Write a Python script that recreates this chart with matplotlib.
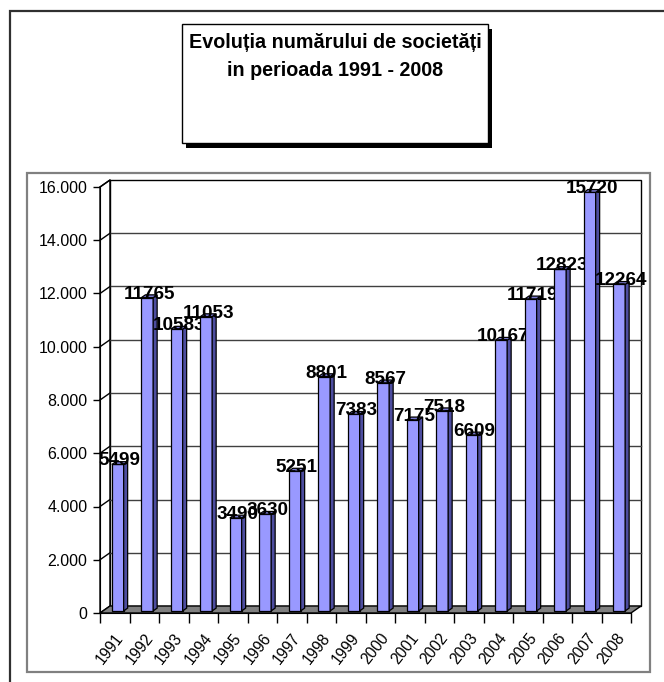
import matplotlib
matplotlib.use("Agg")
import matplotlib.pyplot as plt
from matplotlib.patches import Polygon, Rectangle

plt.rcParams['font.family'] = ['Liberation Sans', 'DejaVu Sans']

# data
years = ["1991", "1992", "1993", "1994", "1995", "1996", "1997", "1998", "1999",
         "2000", "2001", "2002", "2003", "2004", "2005", "2006", "2007", "2008"]
companies = [5499, 11765, 10583, 11053, 3490, 3630, 5251, 8801, 7383,
             8567, 7175, 7518, 6609, 10167, 11719, 12823, 15720, 12264]
yticks = [0, 2000, 4000, 6000, 8000, 10000, 12000, 14000, 16000]
title_lines = ["Evoluția numărului de societăți", "in perioada 1991 - 2008"]

W, H = 664, 682
PX_CAT = 29.5      # pixels per category
PX_K = 26.625      # pixels per 1000 units


def fbox(x0, y0, x1, y1):
    """pixel box (top-left origin) -> figure fraction [l, b, w, h]"""
    return [x0 / W, 1 - y1 / H, (x1 - x0) / W, (y1 - y0) / H]


def fig_rect(x0, y0, x1, y1, **kw):
    l, b, w, h = fbox(x0, y0, x1, y1)
    fig.add_artist(Rectangle((l, b), w, h, transform=fig.transFigure,
                             zorder=-1, **kw))


fig = plt.figure(figsize=(W / 100, H / 100), dpi=100)

# outer frame and chart area
fig_rect(10, 11, 680, 695, fill=False, ec='#303030', lw=1.6)
fig_rect(27, 173, 650, 672, fc='white', ec='#808080', lw=1.6)

# title box with shadow
fig_rect(186, 29, 492, 148, fc='black', ec='black', lw=0)
fig_rect(182, 24, 488, 143, fc='white', ec='black', lw=1)
fig.text(335 / W, 1 - 43 / H, title_lines[0], ha='center', va='center',
         fontsize=14.2, fontweight='bold')
fig.text(335 / W, 1 - 70 / H, title_lines[1], ha='center', va='center',
         fontsize=14.2, fontweight='bold')

# plot axes
ax = fig.add_axes(fbox(100, 178, 645, 613))
ax.set_zorder(1)
n = len(years)
ax.set_xlim(0, 545 / PX_CAT)
ax.set_ylim(0, 435 / PX_K * 1000)
ax.patch.set_visible(False)

dx = 10 / PX_CAT          # depth offset, categories
dy = 7 / PX_K * 1000      # depth offset, values
top = yticks[-1]

# walls and floor
ax.add_patch(Polygon([(0, 0), (dx, dy), (dx, top + dy), (0, top)],
                     closed=True, fc='white', ec='black', lw=1, zorder=1, clip_on=False))
ax.add_patch(Rectangle((dx, dy), n, top, fc='white', ec='black', lw=1,
                       zorder=1, clip_on=False))
for v in yticks[1:-1]:
    ax.plot([dx, n + dx], [v + dy, v + dy], color='#404040', lw=1, zorder=1.5,
            clip_on=False)
for v in yticks[1:]:
    ax.plot([0, dx], [v, v + dy], color='black', lw=1, zorder=1.5, clip_on=False)
ax.add_patch(Polygon([(0, 0), (n, 0), (n + dx, dy), (dx, dy)], closed=True,
                     fc='#808080', ec='black', lw=1, zorder=2, clip_on=False))

# 3d-looking columns
bw = 0.4
f0, f1 = 0.3, 0.7
for i, v in enumerate(companies):
    z = 3 + 2 * i
    x0 = i + 0.5 - bw / 2 + f0 * dx
    y0 = f0 * dy
    ddx, ddy = (f1 - f0) * dx, (f1 - f0) * dy
    ax.add_patch(Rectangle((x0, y0), bw, v, fc='#9999ff', ec='black', lw=0.9,
                           zorder=z, clip_on=False))
    ax.add_patch(Polygon([(x0 + bw, y0), (x0 + bw + ddx, y0 + ddy),
                          (x0 + bw + ddx, y0 + v + ddy), (x0 + bw, y0 + v)],
                         closed=True, fc='#4d4d9f', ec='black', lw=0.9,
                         zorder=z, clip_on=False))
    ax.add_patch(Polygon([(x0, y0 + v), (x0 + bw, y0 + v),
                          (x0 + bw + ddx, y0 + v + ddy), (x0 + ddx, y0 + v + ddy)],
                         closed=True, fc='#7777cc', ec='black', lw=0.9,
                         zorder=z, clip_on=False))
    ax.text(i + 0.5 + 0.5 * dx, v + 0.5 * dy + 80, str(v), ha='center',
            va='center', fontsize=13.6, fontweight='bold', zorder=z + 1,
            clip_on=False)

# axes, ticks, labels
for s in ['top', 'right']:
    ax.spines[s].set_visible(False)
ax.spines['left'].set_bounds(0, top)
ax.spines['bottom'].set_bounds(0, n)
ax.spines['left'].set_zorder(2.5)
ax.spines['bottom'].set_zorder(2.5)
ax.set_yticks(yticks)
ax.set_yticklabels([f'{v:,}'.replace(',', '.') for v in yticks], fontsize=11.5)
ax.tick_params(axis='y', direction='out', length=5, width=1, pad=4)
ax.set_xticks(range(n + 1))
ax.set_xticklabels([])
ax.set_xticks([i + 0.5 for i in range(n)], minor=True)
ax.set_xticklabels(years, minor=True, rotation=52, ha='right',
                   rotation_mode='anchor', fontsize=11.2)
ax.tick_params(axis='x', which='major', direction='out', length=7, width=1)
ax.tick_params(axis='x', which='minor', length=0, pad=12.5)

fig.savefig('out.png', dpi=100)
